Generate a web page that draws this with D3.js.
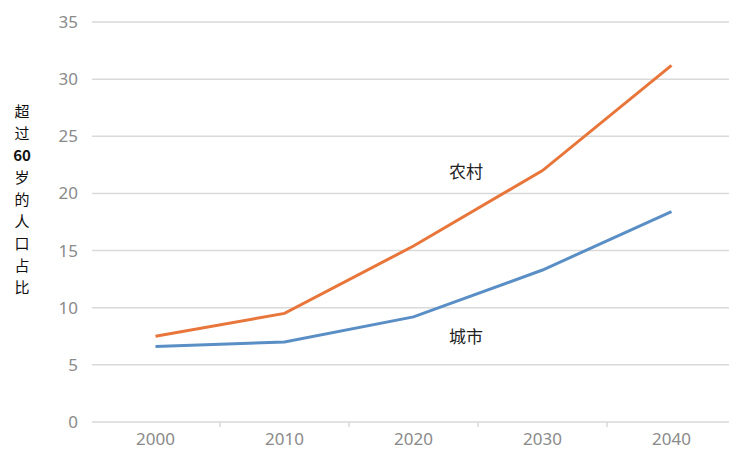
<!DOCTYPE html>
<html lang="zh"><head><meta charset="UTF-8">
<title>农村与城市 60 岁以上人口占比</title>
<script src="https://d3js.org/d3.v7.min.js"></script>
<style>
  body { margin: 0; background: #fff; }
  text { font-family: "Noto Sans CJK SC", "Noto Sans", sans-serif; }
</style>
</head>
<body>
<script>
// data
var years = ["2000", "2010", "2020", "2030", "2040"];
var rural = [7.5, 9.5, 15.4, 22.0, 31.2];
var urban = [6.6, 7.0, 9.2, 13.3, 18.4];
var yTicks = [0, 5, 10, 15, 20, 25, 30, 35];
var yLabel = ["超", "过", "60", "岁", "的", "人", "口", "占", "比"];

var w = 729, h = 451;
var svg = d3.select("body").append("svg").attr("width", w).attr("height", h);

var x = d3.scaleBand().domain(years).range([91, 736]);
var y = d3.scaleLinear().domain([0, 35]).range([422, 22]);

// gridlines
svg.selectAll("line.grid")
  .data(yTicks)
  .enter().append("line")
  .attr("class", "grid")
  .attr("x1", 92).attr("x2", 729)
  .attr("y1", function(d) { return y(d); })
  .attr("y2", function(d) { return y(d); })
  .style("stroke", "#d9d9d9")
  .style("stroke-width", 1.5);

// y tick labels
svg.selectAll("text.ytick")
  .data(yTicks)
  .enter().append("text")
  .attr("class", "ytick")
  .attr("x", 78)
  .attr("y", function(d) { return y(d); })
  .attr("dy", "0.35em")
  .attr("text-anchor", "end")
  .style("font-size", "17px")
  .style("fill", "#8a8a8a")
  .style("font-family", "'Noto Sans', sans-serif")
  .text(function(d) { return d; });

// x axis
var xAxis = svg.append("g")
  .attr("transform", "translate(0," + y(0) + ")")
  .call(d3.axisBottom(x).tickSize(0).tickPadding(11));
xAxis.select(".domain").remove();
xAxis.selectAll("text").style("font-size", "17px").style("fill", "#8a8a8a")
  .style("font-family", "'Noto Sans', sans-serif");

// boundary tick marks
var bounds = years.map(function(d) { return x(d); });
svg.selectAll("line.xtick")
  .data(bounds.slice(1))
  .enter().append("line")
  .attr("x1", function(d) { return d; }).attr("x2", function(d) { return d; })
  .attr("y1", y(0)).attr("y2", y(0) + 5)
  .style("stroke", "#d9d9d9").style("stroke-width", 1.5);

// lines
var line = d3.line()
  .x(function(d, i) { return x(years[i]) + x.bandwidth() / 2; })
  .y(function(d) { return y(d); });

svg.append("path").datum(rural)
  .attr("d", line)
  .style("fill", "none").style("stroke", "#e8763a").style("stroke-width", 3);
svg.append("path").datum(urban)
  .attr("d", line)
  .style("fill", "none").style("stroke", "#5a8fc6").style("stroke-width", 3);

// series labels
svg.append("text").attr("x", 466).attr("y", 172).attr("dy", "0.35em")
  .attr("text-anchor", "middle").style("font-size", "17px").style("fill", "#222")
  .text("农村");
svg.append("text").attr("x", 466).attr("y", 337).attr("dy", "0.35em")
  .attr("text-anchor", "middle").style("font-size", "17px").style("fill", "#222")
  .text("城市");

// vertical y label, one character per row
svg.selectAll("text.ylab")
  .data(yLabel)
  .enter().append("text")
  .attr("class", "ylab")
  .attr("x", 22)
  .attr("y", function(d, i) { return 112 + i * 22; })
  .attr("dy", "0.35em")
  .attr("text-anchor", "middle")
  .style("font-size", "15px")
  .style("font-weight", function(d) { return d === "60" ? "bold" : "normal"; })
  .style("fill", "#111")
  .text(function(d) { return d; });
</script>
</body></html>
